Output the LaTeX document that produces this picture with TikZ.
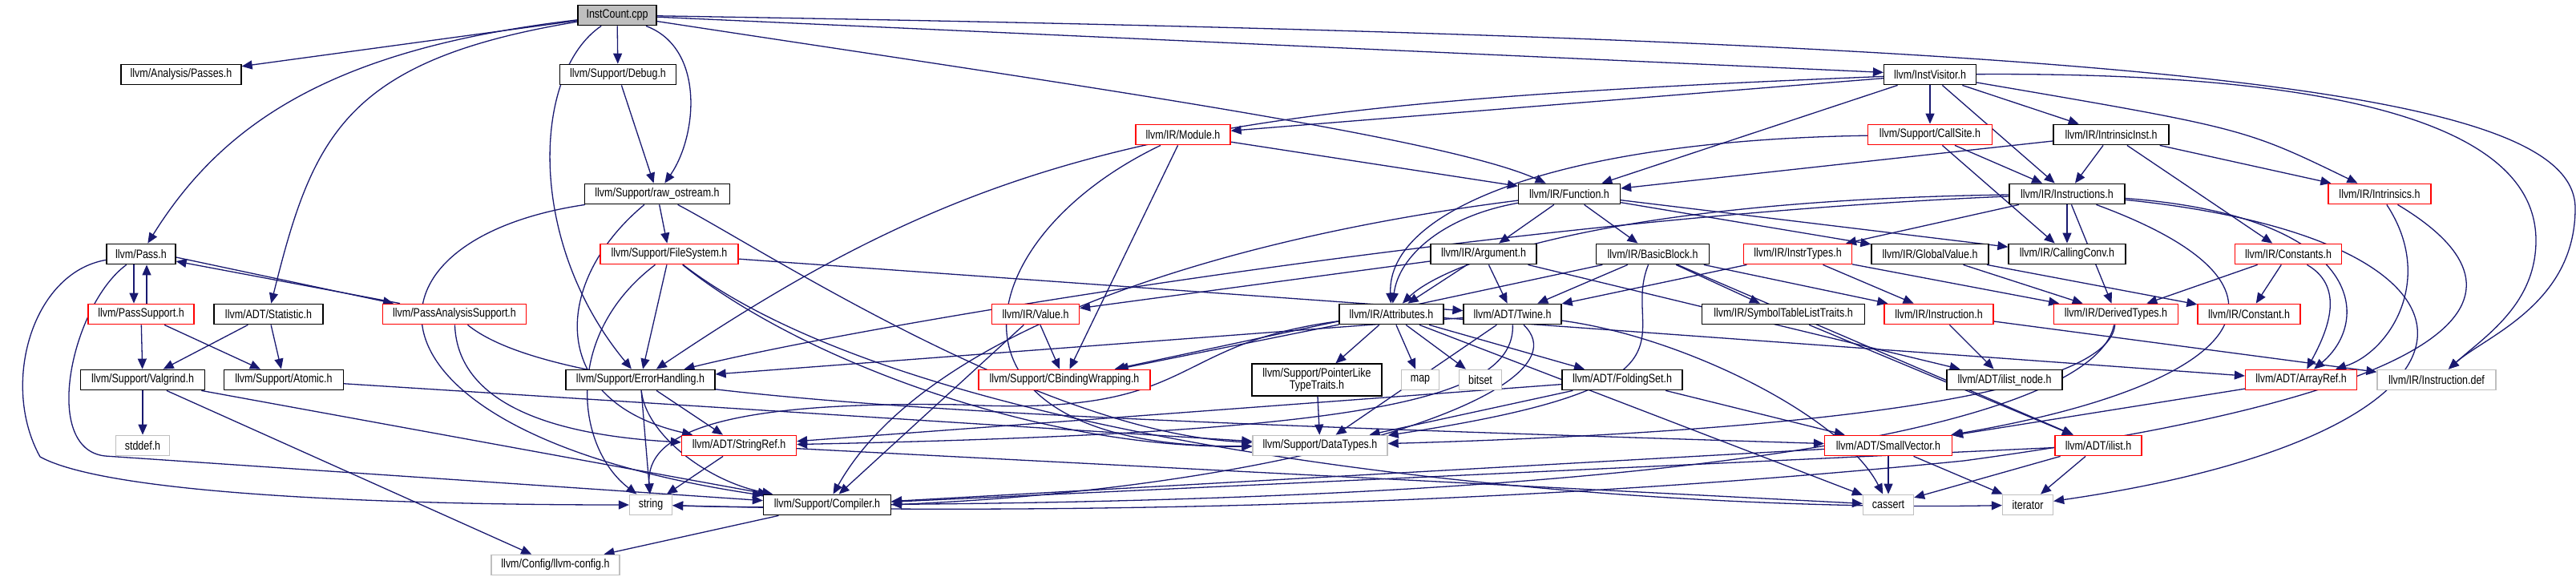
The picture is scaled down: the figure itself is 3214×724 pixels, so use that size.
\documentclass[tikz,border=0pt]{standalone}
\usepackage{fontspec}
\setmainfont{Liberation Sans}[FakeStretch=0.82]
\usetikzlibrary{arrows.meta,backgrounds}
\definecolor{edgeblue}{HTML}{191970}
\definecolor{sysgray}{HTML}{BFBFBF}
\newcommand{\hdrfont}{\fontsize{15.2}{14}\selectfont}
\tikzset{
  hdr/.style={draw=black, line width=1.3pt, fill=white, minimum height=25.5pt, inner sep=0pt, font=\hdrfont},
  redhdr/.style={hdr, draw=red},
  syshdr/.style={hdr, draw=sysgray},
  mainhdr/.style={hdr, fill=sysgray},
  incl/.style={draw=edgeblue, line width=1.3pt, -{Triangle[length=13pt,width=11pt]}},
}
\begin{document}
\begin{tikzpicture}[x=1pt,y=-1pt]
	\useasboundingbox (0,0) rectangle (3214,724);

	% row 0
	\node[mainhdr, minimum width=98] (ic) at (770,19) {InstCount.cpp};
	% row 1
	\node[hdr, minimum width=150] (passes) at (226,93) {llvm/Analysis/Passes.h};
	\node[hdr, minimum width=145] (debug) at (771,93) {llvm/Support/Debug.h};
	\node[hdr, minimum width=115] (iv) at (2408,93) {llvm/InstVisitor.h};
	% row 2
	\node[redhdr, minimum width=118] (module) at (1476,168) {llvm/IR/Module.h};
	\node[redhdr, minimum width=155] (callsite) at (2408,168) {llvm/Support/CallSite.h};
	\node[hdr, minimum width=144] (intrinst) at (2634,168) {llvm/IR/IntrinsicInst.h};
	% row 3
	\node[hdr, minimum width=181] (raw) at (820,242) {llvm/Support/raw\_ostream.h};
	\node[hdr, minimum width=127] (func) at (1958,242) {llvm/IR/Function.h};
	\node[hdr, minimum width=144] (instructions) at (2579,242) {llvm/IR/Instructions.h};
	\node[redhdr, minimum width=128] (intrinsics) at (2969,242) {llvm/IR/Intrinsics.h};
	% row 4
	\node[hdr, minimum width=86] (pass) at (176,317) {llvm/Pass.h};
	\node[redhdr, minimum width=172] (fs) at (835,317) {llvm/Support/FileSystem.h};
	\node[hdr, minimum width=132] (arg) at (1851,317) {llvm/IR/Argument.h};
	\node[hdr, minimum width=141] (bb) at (2062,317) {llvm/IR/BasicBlock.h};
	\node[redhdr, minimum width=135] (instrtypes) at (2243,317) {llvm/IR/InstrTypes.h};
	\node[hdr, minimum width=146] (gv) at (2408,317) {llvm/IR/GlobalValue.h};
	\node[hdr, minimum width=146] (cc) at (2579,317) {llvm/IR/CallingConv.h};
	\node[redhdr, minimum width=133] (constants) at (2855,317) {llvm/IR/Constants.h};
	% row 5
	\node[redhdr, minimum width=132] (passsupport) at (176,392) {llvm/PassSupport.h};
	\node[hdr, minimum width=136] (stat) at (335,392) {llvm/ADT/Statistic.h};
	\node[redhdr, minimum width=179] (pas) at (567,392) {llvm/PassAnalysisSupport.h};
	\node[redhdr, minimum width=109] (value) at (1292,392) {llvm/IR/Value.h};
	\node[hdr, minimum width=130] (attr) at (1736,392) {llvm/IR/Attributes.h};
	\node[hdr, minimum width=122] (twine) at (1887,392) {llvm/ADT/Twine.h};
	\node[hdr, minimum width=203] (symtab) at (2225,392) {llvm/IR/SymbolTableListTraits.h};
	\node[redhdr, minimum width=136] (inst) at (2419,392) {llvm/IR/Instruction.h};
	\node[redhdr, minimum width=155] (derived) at (2640,392) {llvm/IR/DerivedTypes.h};
	\node[redhdr, minimum width=128] (constant) at (2806,392) {llvm/IR/Constant.h};
	% row 6
	\node[hdr, minimum width=155] (valgrind) at (178,474) {llvm/Support/Valgrind.h};
	\node[hdr, minimum width=149] (atomic) at (354,474) {llvm/Support/Atomic.h};
	\node[hdr, minimum width=186] (err) at (799,474) {llvm/Support/ErrorHandling.h};
	\node[redhdr, minimum width=214] (cbind) at (1328,474) {llvm/Support/CBindingWrapping.h};
	\node[hdr, minimum width=162, minimum height=40, align=center] (ptrlike) at (1643,474) {llvm/Support/PointerLike\\TypeTraits.h};
	\node[syshdr, minimum width=47] (map) at (1772,474) {map};
	\node[syshdr, minimum width=53] (bitset) at (1847,474) {bitset};
	\node[hdr, minimum width=150] (folding) at (2024,474) {llvm/ADT/FoldingSet.h};
	\node[hdr, minimum width=144] (ilistnode) at (2501,474) {llvm/ADT/ilist\_node.h};
	\node[redhdr, minimum width=139] (arrayref) at (2871,474) {llvm/ADT/ArrayRef.h};
	\node[syshdr, minimum width=148] (idef) at (3040,474) {llvm/IR/Instruction.def};
	% row 7
	\node[syshdr, minimum width=67] (stddef) at (178,556) {stddef.h};
	\node[redhdr, minimum width=143] (stringref) at (922,556) {llvm/ADT/StringRef.h};
	\node[syshdr, minimum width=168] (datatypes) at (1647,556) {llvm/Support/DataTypes.h};
	\node[redhdr, minimum width=159] (smallvec) at (2356,556) {llvm/ADT/SmallVector.h};
	\node[redhdr, minimum width=108] (ilist) at (2618,556) {llvm/ADT/ilist.h};
	% row 8
	\node[syshdr, minimum width=53] (string) at (812,630) {string};
	\node[hdr, minimum width=159] (compiler) at (1032,630) {llvm/Support/Compiler.h};
	\node[syshdr, minimum width=63] (cassert) at (2356,630) {cassert};
	\node[syshdr, minimum width=63] (iterator) at (2530,630) {iterator};
	% row 9
	\node[syshdr, minimum width=160] (config) at (693,705) {llvm/Config/llvm-config.h};

	\begin{pgfonlayer}{background}
	% InstCount.cpp
	\draw[incl] (ic) -- (passes);
	\draw[incl] (ic) .. controls (420,60) and (280,150) .. (pass);
	\draw[incl] (ic) .. controls (430,75) and (390,170) .. (stat);
	\draw[incl] (ic) .. controls (665,90) and (655,300) .. (err);
	\draw[incl] (ic) -- (debug);
	\draw[incl] (ic) .. controls (880,60) and (870,170) .. (raw);
	\draw[incl] (ic) .. controls (1300,100) and (1800,170) .. (func);
	\draw[incl] (ic) -- (iv);
	\draw[incl] (ic) .. controls (2700,50) and (3213,110) .. (3213,260) .. controls (3213,380) and (3100,420) .. (idef);
	% support headers
	\draw[incl] (debug) -- (raw);
	\draw[incl] (raw) -- (fs);
	\draw[incl] (raw) .. controls (430,300) and (430,540) .. (compiler);
	\draw[incl] (raw) .. controls (950,310) and (1300,540) .. (datatypes);
	\draw[incl] (raw) .. controls (690,350) and (680,500) .. (stringref);
	\draw[incl] (fs) -- (twine);
	\draw[incl] (fs) -- (err);
	\draw[incl] (fs) .. controls (700,420) and (720,560) .. (string);
	\draw[incl] (fs) .. controls (1000,450) and (1300,560) .. (datatypes);
	\draw[incl] (fs) .. controls (1150,560) and (2000,640) .. (iterator);
	% passes
	\draw[incl] ([xshift=-9pt]pass.south) -- ([xshift=-9pt]passsupport.north);
	\draw[incl] ([xshift=7pt]passsupport.north) -- ([xshift=7pt]pass.south);
	\draw[incl] ([yshift=-4pt]pass.east) -- ([xshift=-76pt]pas.north);
	\draw[incl] ([xshift=-68pt]pas.north) -- ([yshift=-9pt]pass.east);
	\draw[incl] (pass) .. controls (40,340) and (0,480) .. (50,570) .. controls (150,625) and (600,630) .. (string);
	\draw[incl] (pass) .. controls (90,380) and (50,560) .. (131,569) -- (compiler);
	\draw[incl] (passsupport) -- (valgrind);
	\draw[incl] (passsupport) -- (atomic);
	\draw[incl] (stat) -- (valgrind);
	\draw[incl] (stat) -- (atomic);
	\draw[incl] (pas) .. controls (570,480) and (640,540) .. (stringref);
	\draw[incl] (pas) .. controls (700,500) and (1200,520) .. (smallvec);
	\draw[incl] (valgrind) -- (stddef);
	\draw[incl] (valgrind) -- (config);
	\draw[incl] (valgrind) -- (compiler);
	\draw[incl] (atomic) -- (datatypes);
	\draw[incl] (err) -- (stringref);
	\draw[incl] (err) .. controls (805,540) and (880,600) .. (compiler);
	\draw[incl] (err) -- (string);
	\draw[incl] (stringref) -- (string);
	\draw[incl] (stringref) -- (cassert);
	\draw[incl] (compiler) -- (config);
	% InstVisitor.h
	\draw[incl] (iv) -- (module);
	\draw[incl] (iv) .. controls (1500,130) and (1250,170) .. (err);
	\draw[incl] (iv) -- (func);
	\draw[incl] (iv) -- (callsite);
	\draw[incl] (iv) -- (instructions);
	\draw[incl] (iv) -- (intrinst);
	\draw[incl] (iv) .. controls (2800,160) .. (intrinsics);
	\draw[incl] (iv) .. controls (2900,90) and (3164,150) .. (3164,300) .. controls (3164,380) and (3100,420) .. (idef);
	% IR headers
	\draw[incl] (module) -- (func);
	\draw[incl] (module) .. controls (1200,300) and (1150,560) .. (datatypes);
	\draw[incl] (module) -- (cbind);
	\draw[incl] (callsite) .. controls (1950,175) and (1730,260) .. (attr);
	\draw[incl] (callsite) -- (cc);
	\draw[incl] (callsite) -- (instructions);
	\draw[incl] (intrinst) -- (func);
	\draw[incl] (intrinst) -- (instructions);
	\draw[incl] (intrinst) -- (constants);
	\draw[incl] (intrinst) -- (intrinsics);
	\draw[incl] (func) -- (arg);
	\draw[incl] (func) -- (bb);
	\draw[incl] (func) .. controls (1800,270) and (1745,320) .. (attr);
	\draw[incl] (func) -- (cc);
	\draw[incl] (func) -- (gv);
	\draw[incl] (func) .. controls (1500,300) and (1150,420) .. (compiler);
	\draw[incl] (arg) -- (attr);
	\draw[incl] (arg) -- (twine);
	\draw[incl] (arg) -- (value);
	\draw[incl] (arg) -- (ilistnode);
	\draw[incl] (bb) -- (twine);
	\draw[incl] (bb) -- (symtab);
	\draw[incl] (bb) -- (inst);
	\draw[incl] (bb) -- (cbind);
	\draw[incl] (bb) .. controls (2020,420) and (2150,480) .. (datatypes);
	\draw[incl] (bb) -- (ilist);
	\draw[incl] (instrtypes) -- (twine);
	\draw[incl] (instrtypes) -- (inst);
	\draw[incl] (instrtypes) -- (derived);
	\draw[incl] (gv) -- (derived);
	\draw[incl] (gv) -- (constant);
	\draw[incl] (instructions) -- (cc);
	\draw[incl] (instructions) -- (instrtypes);
	\draw[incl] (instructions) -- (derived);
	\draw[incl] (instructions) .. controls (2000,250) and (1800,330) .. (attr);
	\draw[incl] (instructions) .. controls (1900,270) and (1100,400) .. (err);
	\draw[incl] (instructions) .. controls (2950,270) and (2960,400) .. (arrayref);
	\draw[incl] (instructions) .. controls (2900,360) and (2800,480) .. (smallvec);
	\draw[incl] (instructions) .. controls (3150,300) and (3150,540) .. (iterator);
	\draw[incl] (intrinsics) .. controls (3040,350) and (2980,440) .. (arrayref);
	\draw[incl] (intrinsics) .. controls (3150,350) and (3150,480) .. (2450,575) .. controls (1800,640) and (1200,640) .. (string);
	\draw[incl] (constants) -- (derived);
	\draw[incl] (constants) -- (constant);
	\draw[incl] (constants) .. controls (2930,360) and (2900,420) .. (arrayref);
	\draw[incl] (value) -- (cbind);
	\draw[incl] (value) -- (compiler);
	\draw[incl] (attr) -- (ptrlike);
	\draw[incl] (attr) -- (map);
	\draw[incl] (attr) -- (bitset);
	\draw[incl] (attr) -- (folding);
	\draw[incl] (attr) -- (cbind);
	\draw[incl] (attr) .. controls (1450,430) and (1500,520) .. (1200,505) .. controls (900,500) and (805,540) .. (string);
	\draw[incl] (attr) -- (cassert);
	\draw[incl] (attr) -- (arrayref);
	\draw[incl] (twine) .. controls (1890,500) and (1700,540) .. (stringref);
	\draw[incl] (twine) -- (datatypes);
	\draw[incl] (twine) -- (err);
	\draw[incl] (twine) .. controls (2100,420) and (2300,520) .. (cassert);
	\draw[incl] (twine) .. controls (2000,500) and (1500,650) .. (string);
	\draw[incl] (symtab) -- (ilist);
	\draw[incl] (inst) -- (ilistnode);
	\draw[incl] (inst) -- (idef);
	\draw[incl] (derived) .. controls (2620,500) and (2300,620) .. (compiler);
	\draw[incl] (derived) .. controls (2630,500) and (2200,540) .. (datatypes);
	% ADT headers
	\draw[incl] (ptrlike) -- (datatypes);
	\draw[incl] (folding) -- (datatypes);
	\draw[incl] (folding) -- (smallvec);
	\draw[incl] (folding) -- (stringref);
	\draw[incl] (arrayref) -- (smallvec);
	\draw[incl] (smallvec) -- (cassert);
	\draw[incl] (smallvec) -- (iterator);
	\draw[incl] (smallvec) -- (compiler);
	\draw[incl] (ilist) -- (iterator);
	\draw[incl] (ilist) -- (cassert);
	\draw[incl] (ilist) -- (compiler);
	\end{pgfonlayer}
\end{tikzpicture}
\end{document}
